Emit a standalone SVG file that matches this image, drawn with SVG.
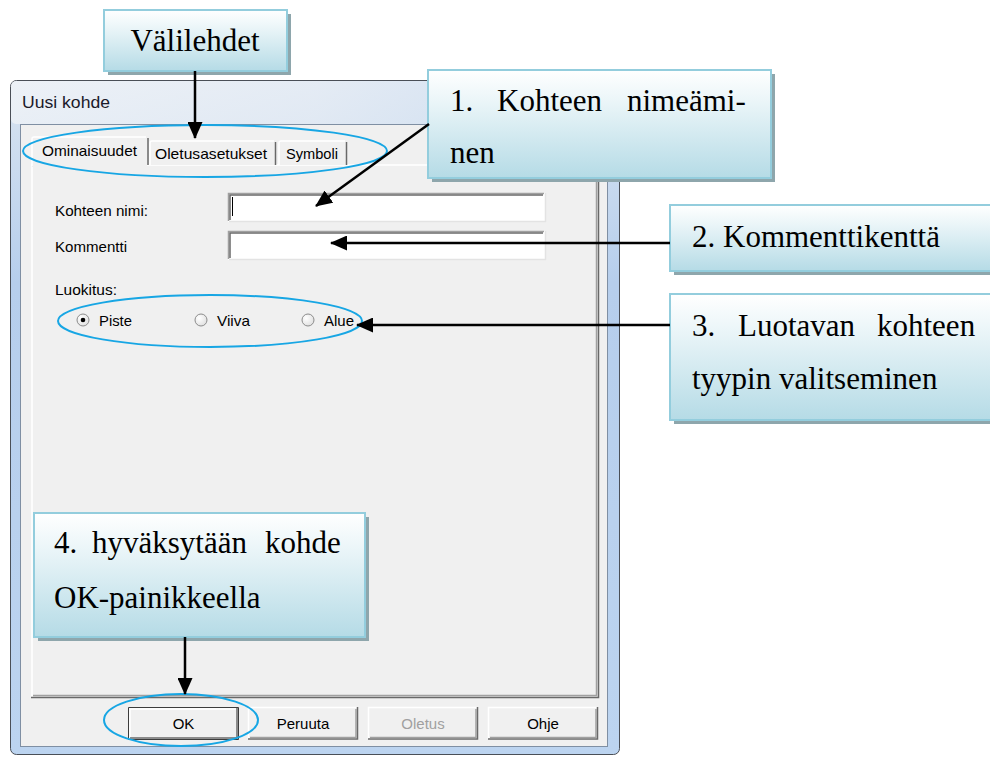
<svg xmlns="http://www.w3.org/2000/svg" width="990" height="758" viewBox="0 0 990 758">
<defs>
<linearGradient id="cg" x1="0" y1="0" x2="0" y2="1">
<stop offset="0" stop-color="#ffffff"/>
<stop offset="0.3" stop-color="#eaf5f8"/>
<stop offset="1" stop-color="#b5dbe6"/>
</linearGradient>
<linearGradient id="wf" x1="0" y1="0" x2="0" y2="1">
<stop offset="0" stop-color="#e8eef6"/>
<stop offset="0.065" stop-color="#d2e0f0"/>
<stop offset="0.3" stop-color="#b6ceec"/>
<stop offset="1" stop-color="#bcd4f0"/>
</linearGradient>
<linearGradient id="tb" x1="0" y1="0" x2="1" y2="0">
<stop offset="0" stop-color="#eef2f7"/>
<stop offset="0.5" stop-color="#e4ebf4"/>
<stop offset="1" stop-color="#c9dbf0"/>
</linearGradient>
<radialGradient id="rb" cx="0.35" cy="0.35" r="0.7">
<stop offset="0" stop-color="#ffffff"/>
<stop offset="1" stop-color="#e0e0e0"/>
</radialGradient>
<marker id="ah" markerUnits="userSpaceOnUse" markerWidth="17" markerHeight="15" refX="16" refY="7.5" orient="auto">
<path d="M0,0 L17,7.5 L0,15 z" fill="#000"/>
</marker>
</defs>
<style>
.co{fill:url(#cg);stroke:#93cddd;stroke-width:2}
.sh{fill:#8ea6ac}
.ct{font-family:"Liberation Serif","Times New Roman",serif;font-size:31px;fill:#000}
.ui{font-family:"Liberation Sans",Arial,sans-serif;font-size:15px;fill:#000}
.dis{fill:#a0a0a0}
.hl{fill:none;stroke:#17a6e4;stroke-width:2}
.cn{stroke:#000;stroke-width:2.5;fill:none;marker-end:url(#ah)}
.btn{fill:#f0f0f0}
.hi{stroke:#ffffff;stroke-width:1.5;fill:none}
.lo{stroke:#a0a0a0;stroke-width:1.5;fill:none}
.dk{stroke:#696969;stroke-width:1.5;fill:none}
.rd{fill:url(#rb);stroke:#8c8c8c;stroke-width:1}
</style>
<rect x="0" y="0" width="990" height="758" fill="#ffffff"/>

<g id="dialog">
<rect x="10.5" y="80.5" width="609" height="674" rx="6" fill="url(#wf)" stroke="#4a4f57" stroke-width="1"/>
<rect x="11" y="81" width="608" height="43" rx="5" fill="url(#tb)" opacity="0.8"/>
<text class="ui" x="22" y="108" textLength="88" lengthAdjust="spacingAndGlyphs" style="font-size:17px;fill:#1a1a2a">Uusi kohde</text>
<rect x="20.5" y="124.5" width="587" height="622" fill="#f0f0f0" stroke="#7f8fa3" stroke-width="1"/>
<rect x="32" y="165" width="566" height="532" fill="#f0f0f0"/>
<path class="hi" d="M32,697 V165 H598"/>
<path class="lo" d="M33,695.5 H596.5 V166"/>
<path class="dk" d="M31,697.5 H598.5 V165"/>
<path d="M150,165 V143 Q150,141 152,141 H275 V165 Z" fill="#f0f0f0"/>
<path class="hi" d="M150,165 V143 Q150,141 152,141 H274"/>
<path class="dk" d="M275.5,142 V165"/>
<path d="M279,165 V143 Q279,141 281,141 H346 V165 Z" fill="#f0f0f0"/>
<path class="hi" d="M279,165 V143 Q279,141 281,141 H345"/>
<path class="dk" d="M346.5,142 V165"/>
<path d="M32,167 V139 Q32,137 34,137 H147 V167 Z" fill="#f0f0f0"/>
<path class="hi" d="M32,166 V139 Q32,137 34,137 H146"/>
<path class="dk" d="M148,138 V165"/>
<text class="ui" x="42" y="156" textLength="95" lengthAdjust="spacingAndGlyphs">Ominaisuudet</text>
<text class="ui" x="155" y="159" textLength="112" lengthAdjust="spacingAndGlyphs">Oletusasetukset</text>
<text class="ui" x="286" y="159" textLength="52" lengthAdjust="spacingAndGlyphs">Symboli</text>
<text class="ui" x="55" y="216" textLength="93" lengthAdjust="spacingAndGlyphs">Kohteen nimi:</text>
<text class="ui" x="55" y="252" textLength="72" lengthAdjust="spacingAndGlyphs">Kommentti</text>
<text class="ui" x="55" y="295" textLength="62" lengthAdjust="spacingAndGlyphs">Luokitus:</text>
<rect x="228" y="193" width="317" height="29" fill="#ffffff"/>
<path class="lo" d="M228.5,221 V193.5 H544"/>
<path class="dk" d="M230,220 V195 H543"/>
<path d="M229,221.5 H545.5 V193" stroke="#e3e3e3" stroke-width="1.5" fill="none"/>
<line x1="232.5" y1="197" x2="232.5" y2="216" stroke="#000" stroke-width="1"/>
<rect x="228" y="231" width="317" height="29" fill="#ffffff"/>
<path class="lo" d="M228.5,259 V231.5 H544"/>
<path class="dk" d="M230,258 V233 H543"/>
<path d="M229,259.5 H545.5 V231" stroke="#e3e3e3" stroke-width="1.5" fill="none"/>
<circle class="rd" cx="83" cy="320" r="6"/>
<circle cx="83" cy="320" r="2.3" fill="#000"/>
<text class="ui" x="99" y="326" textLength="33" lengthAdjust="spacingAndGlyphs">Piste</text>
<circle class="rd" cx="201" cy="320" r="6"/>
<text class="ui" x="217" y="326" textLength="33" lengthAdjust="spacingAndGlyphs">Viiva</text>
<circle class="rd" cx="308" cy="320" r="6"/>
<text class="ui" x="324" y="326" textLength="30" lengthAdjust="spacingAndGlyphs">Alue</text>
<rect class="btn" x="129" y="707" width="109" height="32"/>
<path d="M128.5,739.5 V707.5 H238.5 V739.5 Z" stroke="#3c3c3c" stroke-width="1" fill="none"/>
<path class="hi" d="M130,738 V709 H236"/>
<path class="dk" d="M130,738 H237 V708"/>
<text class="ui" x="183.5" y="729" text-anchor="middle">OK</text>
<rect class="btn" x="248" y="707" width="110" height="32"/>
<path class="hi" d="M248.5,739 V707.5 H357"/>
<path class="dk" d="M248,739 H357.5 V707"/>
<path class="lo" d="M250,737.5 H356 V709"/>
<text class="ui" x="303" y="729" text-anchor="middle">Peruuta</text>
<rect class="btn" x="368" y="707" width="110" height="32"/>
<path class="hi" d="M368.5,739 V707.5 H477"/>
<path class="dk" d="M368,739 H477.5 V707"/>
<path class="lo" d="M370,737.5 H476 V709"/>
<text class="ui dis" x="423" y="729" text-anchor="middle">Oletus</text>
<rect class="btn" x="488" y="707" width="110" height="32"/>
<path class="hi" d="M488.5,739 V707.5 H597"/>
<path class="dk" d="M488,739 H597.5 V707"/>
<path class="lo" d="M490,737.5 H596 V709"/>
<text class="ui" x="543" y="729" text-anchor="middle">Ohje</text>
</g>

<g id="hl-tabs"><ellipse class="hl" cx="205" cy="151" rx="182" ry="26"/></g>
<g id="hl-radio"><ellipse class="hl" cx="210" cy="321" rx="152" ry="26"/></g>
<g id="hl-ok"><ellipse class="hl" cx="181" cy="720" rx="77" ry="26"/></g>

<g id="valilehdet">
<rect class="sh" x="108" y="14" width="183" height="61"/>
<rect class="co" x="104" y="10" width="183" height="61"/>
<text class="ct" x="195" y="51" text-anchor="middle">Välilehdet</text>
</g>

<g id="callout1">
<rect class="sh" x="432" y="74" width="343" height="108"/>
<rect class="co" x="428" y="70" width="343" height="108"/>
<text class="ct" y="111"><tspan x="450">1.</tspan><tspan x="497">Kohteen</tspan><tspan x="627">nimeämi-</tspan></text>
<text class="ct" x="450" y="163">nen</text>
</g>

<g id="callout2">
<rect class="sh" x="674" y="209" width="330" height="66"/>
<rect class="co" x="670" y="205" width="330" height="66"/>
<text class="ct" x="692" y="247">2. Kommenttikenttä</text>
</g>

<g id="callout3">
<rect class="sh" x="674" y="298" width="330" height="126"/>
<rect class="co" x="670" y="294" width="330" height="126"/>
<text class="ct" y="336"><tspan x="692">3.</tspan><tspan x="738">Luotavan</tspan><tspan x="877">kohteen</tspan></text>
<text class="ct" x="692" y="389">tyypin valitseminen</text>
</g>

<g id="callout4">
<rect class="sh" x="38" y="517" width="331" height="124"/>
<rect class="co" x="34" y="513" width="331" height="124"/>
<text class="ct" y="553"><tspan x="54">4.</tspan><tspan x="92">hyväksytään</tspan><tspan x="265">kohde</tspan></text>
<text class="ct" x="54" y="608">OK-painikkeella</text>
</g>

<g id="connectors">
<line class="cn" x1="195" y1="71" x2="195" y2="138"/>
<line class="cn" x1="429" y1="124" x2="316" y2="206"/>
<line class="cn" x1="670" y1="243" x2="331" y2="243"/>
<line class="cn" x1="670" y1="325" x2="357" y2="325"/>
<line class="cn" x1="185" y1="637" x2="185" y2="694"/>
</g>
</svg>
